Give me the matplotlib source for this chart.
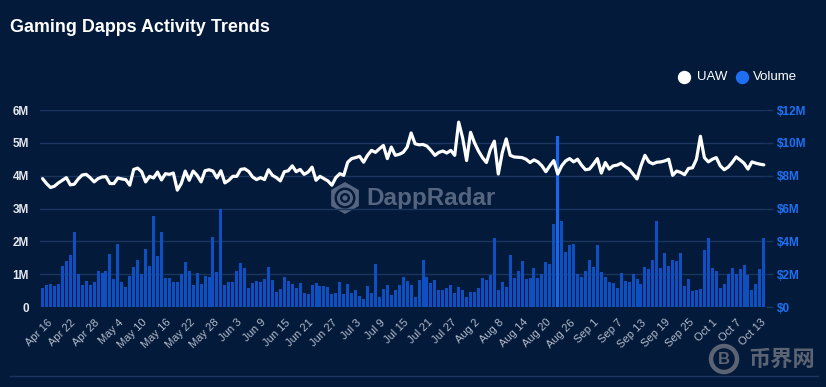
import numpy as np
import pandas as pd
import matplotlib
matplotlib.use("Agg")
import matplotlib.pyplot as plt
from matplotlib.patches import Circle, RegularPolygon

plt.rcParams['font.family'] = ['Liberation Sans', 'DejaVu Sans']

# ---------------- data ----------------
start_date = "2023-04-14"

uaw_millions = [
    3.91, 3.76, 3.64, 3.68, 3.78, 3.86, 3.94, 3.72, 3.74, 3.90,
    4.02, 4.04, 3.94, 3.81, 3.91, 3.96, 3.97, 3.76, 3.76, 3.93,
    3.90, 3.88, 3.71, 4.19, 4.23, 4.12, 3.81, 3.98, 3.93, 4.11,
    3.87, 4.06, 4.04, 4.08, 3.56, 3.76, 4.14, 3.86, 4.14, 4.01,
    3.81, 4.15, 4.18, 4.14, 3.93, 4.15, 3.78, 3.86, 3.98, 3.98,
    4.19, 4.21, 4.13, 3.96, 3.88, 3.94, 3.88, 4.18, 4.01, 3.94,
    3.84, 4.12, 4.15, 4.30, 4.12, 4.19, 4.04, 4.11, 4.26, 3.86,
    3.98, 3.91, 3.84, 3.71, 3.94, 4.06, 4.01, 4.41, 4.52, 4.55,
    4.59, 4.41, 4.62, 4.77, 4.71, 4.82, 4.92, 4.52, 4.87, 4.62,
    4.65, 4.71, 4.87, 5.30, 4.97, 4.94, 4.95, 4.90, 4.77, 4.62,
    4.71, 4.75, 4.69, 4.77, 4.62, 5.63, 5.15, 4.46, 5.32, 5.00,
    4.75, 4.55, 4.40, 4.80, 5.05, 4.05, 4.70, 5.12, 4.62, 4.57,
    4.56, 4.55, 4.50, 4.40, 4.48, 4.42, 4.30, 4.12, 4.30, 4.46,
    4.05, 4.30, 4.45, 4.52, 4.42, 4.50, 4.32, 4.18, 4.20, 4.35,
    4.52, 4.08, 4.40, 4.20, 4.30, 4.32, 4.38, 4.28, 4.20, 4.05,
    3.90, 4.30, 4.62, 4.42, 4.36, 4.41, 4.42, 4.45, 4.50, 4.01,
    4.14, 4.10, 4.03, 4.22, 4.24, 4.50, 5.20, 4.55, 4.42, 4.50,
    4.55, 4.30, 4.18, 4.26, 4.40, 4.57, 4.48, 4.38, 4.20, 4.42,
    4.38, 4.35, 4.33,
]

volume_musd = [
    1.16, 1.36, 1.42, 1.30, 1.38, 2.50, 2.80, 3.14, 4.58, 2.04,
    1.36, 1.60, 1.34, 1.52, 2.22, 2.08, 2.18, 3.22, 1.72, 3.82,
    1.54, 1.24, 1.86, 2.46, 2.88, 2.00, 3.54, 2.50, 5.54, 3.12,
    4.56, 1.78, 1.78, 1.54, 1.52, 2.04, 2.74, 2.22, 1.32, 2.08,
    1.42, 1.86, 1.80, 4.26, 2.14, 6.00, 1.36, 1.52, 1.50, 2.22,
    2.68, 2.38, 1.18, 1.44, 1.60, 1.50, 1.72, 2.42, 1.64, 0.94,
    1.12, 1.84, 1.60, 1.42, 1.14, 1.44, 0.88, 0.82, 1.36, 1.48,
    1.30, 1.26, 1.24, 0.80, 0.84, 1.50, 0.80, 1.42, 0.88, 1.04,
    0.64, 0.48, 1.28, 0.88, 2.60, 0.60, 1.10, 1.34, 0.72, 1.04,
    1.34, 1.82, 1.56, 1.34, 0.60, 1.64, 2.84, 1.82, 1.44, 1.64,
    1.06, 1.06, 1.16, 1.34, 0.88, 1.22, 1.06, 0.62, 0.92, 0.92,
    1.16, 1.76, 1.62, 1.96, 4.22, 1.04, 1.50, 1.22, 3.16, 1.74,
    2.22, 2.82, 1.72, 1.74, 2.36, 1.78, 2.02, 2.76, 2.64, 5.06,
    10.42, 5.26, 3.36, 3.76, 3.84, 2.00, 1.80, 2.18, 2.88, 2.42,
    3.78, 2.12, 1.80, 1.54, 1.46, 1.18, 2.08, 1.60, 1.54, 2.00,
    1.68, 1.42, 2.46, 2.30, 2.86, 5.24, 2.38, 3.26, 2.50, 2.84,
    2.82, 3.30, 1.30, 1.70, 1.00, 1.02, 1.12, 3.48, 4.22, 2.36,
    2.20, 1.16, 1.40, 2.00, 2.38, 2.00, 2.34, 2.58, 1.92, 1.06,
    1.40, 2.32, 4.22,
]

x_tick_labels = [
    "Apr 16", "Apr 22", "Apr 28", "May 4", "May 10", "May 16", "May 22",
    "May 28", "Jun 3", "Jun 9", "Jun 15", "Jun 21", "Jun 27", "Jul 3",
    "Jul 9", "Jul 15", "Jul 21", "Jul 27", "Aug 2", "Aug 8", "Aug 14",
    "Aug 20", "Aug 26", "Sep 1", "Sep 7", "Sep 13", "Sep 19", "Sep 25",
    "Oct 1", "Oct 7", "Oct 13",
]
uaw_ticks = [0, 1, 2, 3, 4, 5, 6]
uaw_tick_labels = ["0", "1M", "2M", "3M", "4M", "5M", "6M"]
vol_ticks = [0, 2, 4, 6, 8, 10, 12]
vol_tick_labels = ["$0", "$2M", "$4M", "$6M", "$8M", "$10M", "$12M"]

# ---------------- style ----------------
BG = "#031a3a"
GRID = "#1c355f"
BAR = "#0e4fc2"
BAR_HI = "#1468ee"
BLUE_TXT = "#1f6ff0"
WM = "#56657f"

W, H = 826, 387
fig = plt.figure(figsize=(W / 100, H / 100), dpi=100, facecolor=BG)

dates = pd.date_range(start_date, periods=len(uaw_millions), freq="D")
x = (dates - dates[0]).days.values.astype(float)
tick_pos = [(pd.Timestamp(lbl + " 2023") - dates[0]).days for lbl in x_tick_labels]

# overlay for watermarks / legend
ov = fig.add_axes([0, 0, 1, 1], zorder=0)
ov.set_xlim(0, W)
ov.set_ylim(H, 0)
ov.axis("off")
ov.patch.set_visible(False)

left_px, right_px, top_px, bot_px = 40, 766, 110, 307
rect = [left_px / W, 1 - bot_px / H, (right_px - left_px) / W, (bot_px - top_px) / H]

ax2 = fig.add_axes(rect, zorder=1)   # volume (right)
ax = fig.add_axes(rect, zorder=2, sharex=ax2)  # UAW (left)
for a in (ax, ax2):
    a.patch.set_visible(False)
    for s in a.spines.values():
        s.set_visible(False)

colors = [BAR_HI if v == max(volume_musd) else BAR for v in volume_musd]
ax2.bar(x, volume_musd, width=0.76, color=colors, linewidth=0, zorder=2)
ax2.set_ylim(0, 12)
ax2.set_yticks(vol_ticks)
ax2.set_yticklabels(vol_tick_labels)
ax2.yaxis.tick_right()
ax2.tick_params(axis="y", colors=GRID, length=5, width=1, pad=2.5, labelsize=8.5)
for t in ax2.get_yticklabels():
    t.set_color(BLUE_TXT)
    t.set_fontweight("bold")
ax2.grid(axis="y", color=GRID, linewidth=1)
ax2.set_axisbelow(True)

ax.plot(x, uaw_millions, color="white", linewidth=2.3, solid_joinstyle="round",
        solid_capstyle="round", zorder=3)
ax.set_ylim(0, 6)
ax.set_yticks(uaw_ticks)
ax.set_yticklabels(uaw_tick_labels)
ax.tick_params(axis="y", length=0, pad=8, labelsize=8.5, labelcolor="#e4e7ee")
for t in ax.get_yticklabels():
    t.set_fontweight("bold")

ax.set_xlim(x[0] - 0.65, x[-1] + 0.55)
ax.set_xticks(tick_pos)
ax.set_xticklabels(x_tick_labels, rotation=45, ha="right", rotation_mode="anchor",
                   va="center")
ax.tick_params(axis="x", length=0, pad=10, labelsize=8, labelcolor="#b3bbca")
ax2.tick_params(axis="x", length=0, labelbottom=False)

# title
fig.text(10 / W, 1 - 32 / H, "Gaming Dapps Activity Trends", color="white",
         fontsize=12.9, fontweight="bold", va="baseline", ha="left")

# legend
ov.plot([684], [77], marker="o", markersize=8.6, color="white", linestyle="none")
ov.text(697, 77, "UAW", color="white", fontsize=9.5, va="center", ha="left")
ov.plot([742], [77], marker="o", markersize=8.6, color="#1f6ff5", linestyle="none")
ov.text(753, 77, "Volume", color="white", fontsize=9.5, va="center", ha="left")

# DappRadar watermark
ov.add_patch(RegularPolygon((345, 198), numVertices=6, radius=16, orientation=0,
                            color=WM, lw=0))
ov.add_patch(Circle((345, 198), 10.5, color=BG, lw=0))
ov.add_patch(Circle((345, 198), 8, color=WM, lw=0))
ov.add_patch(Circle((345, 198), 5, color=BG, lw=0))
ov.add_patch(Circle((345, 198), 2.6, color=WM, lw=0))
ov.text(366, 199, "DappRadar", color=WM, fontsize=17.5, fontweight="bold",
        va="center", ha="left")

# bottom separator
ov.plot([10, 818], [376, 376], color=GRID, linewidth=1)

# site watermark bottom right
ov.add_patch(Circle((724, 359), 13, fill=False, ec="#5c6473", lw=3.2))
ov.text(724, 359.5, "B", color="#5c6473", fontsize=12, fontweight="bold",
        ha="center", va="center")
ov.text(748, 359, "币界网", color="#5c6473", fontsize=16, fontweight="bold",
        ha="left", va="center", family=["Noto Sans CJK SC", "DejaVu Sans"])

fig.savefig("out.png", dpi=100, facecolor=BG)
